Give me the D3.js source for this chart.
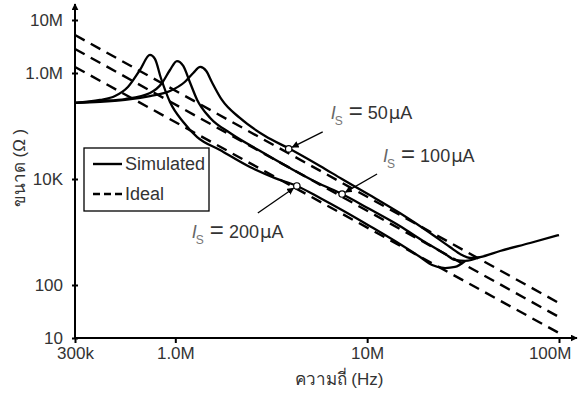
<!DOCTYPE html>
<html>
<head>
<meta charset="utf-8">
<script src="https://cdn.jsdelivr.net/npm/d3@7"></script>
<style>
  body { margin: 0; background: #fff; }
  text { font-family: "Liberation Sans", Arial, sans-serif; }
</style>
</head>
<body>
<div class="chart"></div>
<script>
// tick values + labels
var xTicks = [3e5, 1e6, 1e7, 1e8];
var xTickLabels = ["300k", "1.0M", "10M", "100M"];
var yTicks = [10, 100, 1e4, 1e6, 1e7];
var yTickLabels = ["10", "100", "10K", "1.0M", "10M"];

// simulated impedance [Hz, ohm]
var sim50 = [[3.0e5, 2.72e5], [4.05e5, 2.84e5], [5.47e5, 3.10e5], [7.38e5, 3.68e5], [9.38e5, 4.57e5],
  [1.12e6, 6.76e5], [1.24e6, 1.0e6], [1.35e6, 1.30e6], [1.45e6, 1.09e6], [1.55e6, 6.76e5],
  [1.75e6, 3.10e5], [2.17e6, 1.42e5], [2.94e6, 6.47e4], [3.96e6, 3.68e4], [5.68e6, 1.76e4],
  [7.39e6, 1.0e4], [1.03e7, 4.99e3], [1.48e7, 2.28e3], [2.13e7, 957], [2.70e7, 521],
  [3.12e7, 368], [3.44e7, 323], [3.88e7, 337], [4.93e7, 438], [7.07e7, 620], [1.0e8, 877]];
var sim100 = [[3.0e5, 2.72e5], [4.05e5, 2.96e5], [5.47e5, 3.23e5], [7.38e5, 4.20e5], [8.53e5, 6.47e5],
  [9.38e5, 1.14e6], [1.02e6, 1.68e6], [1.10e6, 1.36e6], [1.19e6, 6.76e5], [1.30e6, 3.10e5],
  [1.52e6, 1.42e5], [1.93e6, 7.38e4], [2.77e6, 3.37e4], [3.96e6, 1.61e4], [5.68e6, 8.05e3],
  [7.39e6, 5.21e3], [1.03e7, 2.71e3], [1.48e7, 1.30e3], [2.0e7, 647], [2.55e7, 384],
  [2.87e7, 297], [3.24e7, 284], [3.88e7, 337]];
var sim200 = [[3.0e5, 2.72e5], [4.05e5, 3.10e5], [4.85e5, 3.68e5], [5.66e5, 5.45e5], [6.54e5, 1.14e6],
  [7.38e5, 2.19e6], [7.83e5, 1.84e6], [8.41e5, 8.05e5], [9.38e5, 2.84e5], [1.10e6, 1.19e5],
  [1.30e6, 6.19e4], [1.71e6, 3.52e4], [2.45e6, 1.68e4], [3.31e6, 1.04e4], [4.31e6, 7.38e3],
  [5.68e6, 4.38e3], [7.39e6, 2.60e3], [1.03e7, 1.30e3], [1.48e7, 594], [1.89e7, 337],
  [2.18e7, 238], [2.55e7, 209], [2.87e7, 219], [3.24e7, 284]];

// ideal straight lines (end points)
var ideal50 = [[3e5, 5.2e6], [1e8, 45.7]];
var ideal100 = [[3e5, 2.84e6], [1e8, 24.9]];
var ideal200 = [[3e5, 1.30e6], [1e8, 12.4]];

// bias current annotations
var currents = ["50", "100", "200"];
var markerPts = [[3.9e6, 3.7e4], [7.4e6, 5.2e3], [4.3e6, 7.4e3]];

var svgWidth = 579;
var svgHeight = 394;
var margin = { top: 20, right: 20, bottom: 56, left: 75 };
var width = svgWidth - margin.left - margin.right;   // 484
var height = svgHeight - margin.top - margin.bottom; // 318

var svg = d3.select(".chart").append("svg")
  .attr("width", svgWidth)
  .attr("height", svgHeight);

svg.append("defs").append("marker")
  .attr("id", "arr")
  .attr("viewBox", "0 0 10 10")
  .attr("refX", 9).attr("refY", 5)
  .attr("markerWidth", 7).attr("markerHeight", 7)
  .attr("markerUnits", "userSpaceOnUse")
  .attr("orient", "auto")
  .append("path").attr("d", "M0,0L10,5L0,10z").attr("fill", "#000");

var chartGroup = svg.append("g")
  .attr("transform", `translate(${margin.left}, ${margin.top})`);

var xScale = d3.scaleLog().domain([3e5, 1e8]).range([0, width]);
var yScale = d3.scaleLog().domain([10, 1e7]).range([height, 0]);

// axes
var leftAxis = d3.axisLeft(yScale).tickValues(yTicks)
  .tickFormat((d, i) => yTickLabels[i]).tickSize(3).tickPadding(9);
var bottomAxis = d3.axisBottom(xScale).tickValues(xTicks)
  .tickFormat((d, i) => xTickLabels[i]).tickSize(5).tickPadding(4);

var yAxisG = chartGroup.append("g").call(leftAxis);
var xAxisG = chartGroup.append("g").attr("transform", `translate(0, ${height})`).call(bottomAxis);

[yAxisG, xAxisG].forEach(function (g) {
  g.select(".domain").remove();
  g.selectAll("text").attr("font-size", "17px").attr("fill", "#333")
    .attr("font-family", "'Liberation Sans', Arial, sans-serif");
  g.selectAll("line").attr("stroke", "#000").attr("stroke-width", 2);
});
yAxisG.selectAll("line").attr("x1", -3).attr("x2", 3);
yAxisG.selectAll("text").attr("x", -12);
xAxisG.selectAll("line").attr("y1", -1).attr("y2", 5);
xAxisG.selectAll(".tick text").filter((d, i) => i == 3).attr("text-anchor", "end").attr("dx", "0.7em");

// axis lines with arrows
chartGroup.append("line")
  .attr("x1", 0).attr("y1", height).attr("x2", 0).attr("y2", -16)
  .attr("stroke", "#000").attr("stroke-width", 2).attr("marker-end", "url(#arr)");
chartGroup.append("line")
  .attr("x1", 0).attr("y1", height).attr("x2", width + 18).attr("y2", height)
  .attr("stroke", "#000").attr("stroke-width", 2).attr("marker-end", "url(#arr)");

// axis titles
chartGroup.append("text")
  .attr("x", width / 2 + 22).attr("y", height + 47)
  .attr("text-anchor", "middle").attr("font-size", "17px").attr("fill", "#333")
  .text("ความถี่ (Hz)");
chartGroup.append("text")
  .attr("transform", `translate(${-50}, ${148}) rotate(-90)`)
  .attr("text-anchor", "middle").attr("font-size", "17px").attr("fill", "#333")
  .text("ขนาด (Ω )");

// lines
var line = d3.line()
  .x(d => xScale(d[0]))
  .y(d => yScale(d[1]));
var curve = d3.line()
  .x(d => xScale(d[0]))
  .y(d => yScale(d[1]))
  .curve(d3.curveMonotoneX);

[ideal50, ideal100, ideal200].forEach(function (s) {
  chartGroup.append("path")
    .data([s])
    .attr("d", line)
    .attr("fill", "none")
    .attr("stroke", "#000")
    .attr("stroke-width", 2.4)
    .attr("stroke-dasharray", "11,7");
});

[sim50, sim100, sim200].forEach(function (s) {
  chartGroup.append("path")
    .data([s])
    .attr("d", curve)
    .attr("fill", "none")
    .attr("stroke", "#000")
    .attr("stroke-width", 2.3)
    .attr("stroke-linejoin", "round");
});

// markers, arrows, labels
var arrowOff = [[34, -17], [35, -20], [-39, 27]];
var labelOff = [[42, -30], [41, -32], [-105, 52]];

markerPts.forEach(function (p, i) {
  var cx = xScale(p[0]), cy = yScale(p[1]);
  var ox = arrowOff[i][0], oy = arrowOff[i][1];
  var len = Math.sqrt(ox * ox + oy * oy);
  chartGroup.append("line")
    .attr("x1", cx + ox).attr("y1", cy + oy)
    .attr("x2", cx + ox * 4 / len).attr("y2", cy + oy * 4 / len)
    .attr("stroke", "#000").attr("stroke-width", 1.3)
    .attr("marker-end", "url(#arr)");
  chartGroup.append("circle")
    .attr("cx", cx).attr("cy", cy).attr("r", 3.2)
    .attr("fill", "#fff").attr("stroke", "#000").attr("stroke-width", 1.2);

  var t = chartGroup.append("text")
    .attr("x", cx + labelOff[i][0]).attr("y", cy + labelOff[i][1])
    .attr("font-size", "18px").attr("fill", "#333");
  t.append("tspan").attr("font-style", "italic").attr("fill", "#666").text("I");
  t.append("tspan").attr("font-size", "12px").attr("fill", "#777").attr("dy", 6).attr("dx", -1).text("S");
  t.append("tspan").attr("font-size", "24px").attr("dy", -6).attr("dx", 6).text("=");
  t.append("tspan").attr("dx", 5).text(currents[i]);
  t.append("tspan").attr("dx", 1).attr("font-family", "'DejaVu Sans', sans-serif").text("µ");
  t.append("tspan").text("A");
});

// legend
var legend = svg.append("g");
legend.append("rect")
  .attr("x", 84).attr("y", 148).attr("width", 125).attr("height", 63)
  .attr("fill", "#fff").attr("stroke", "#000").attr("stroke-width", 1.3);
legend.append("line")
  .attr("x1", 93).attr("x2", 122).attr("y1", 164).attr("y2", 164)
  .attr("stroke", "#000").attr("stroke-width", 2.4);
legend.append("line")
  .attr("x1", 93).attr("x2", 122).attr("y1", 194).attr("y2", 194)
  .attr("stroke", "#000").attr("stroke-width", 2.4).attr("stroke-dasharray", "7,4");
legend.append("text")
  .attr("x", 125).attr("y", 164).attr("dy", "0.35em")
  .attr("font-size", "18px").attr("fill", "#333").text("Simulated");
legend.append("text")
  .attr("x", 125).attr("y", 194).attr("dy", "0.35em")
  .attr("font-size", "18px").attr("fill", "#333").text("Ideal");
</script>
</body>
</html>
